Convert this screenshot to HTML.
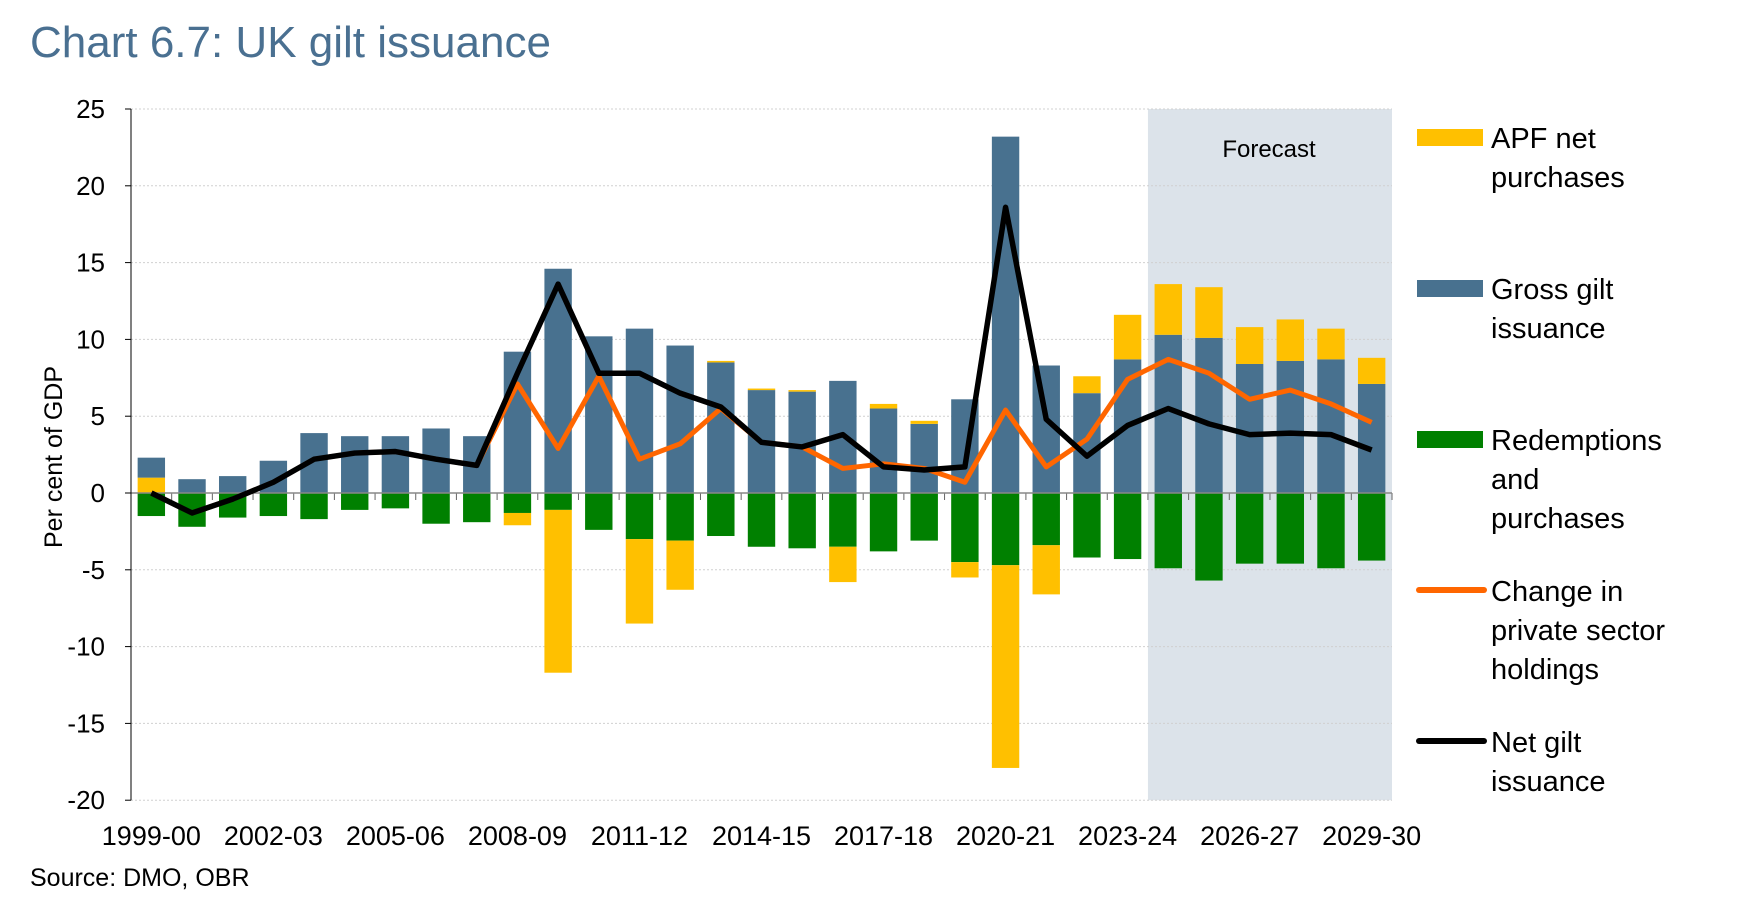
<!DOCTYPE html>
<html><head><meta charset="utf-8"><style>
body{margin:0;background:#fff;width:1754px;height:918px;overflow:hidden;font-family:"Liberation Sans",sans-serif}
</style></head><body>
<svg id="c" width="1754" height="918" xmlns="http://www.w3.org/2000/svg">
<text x="30" y="57" font-size="44" fill="#4a7091">Chart 6.7: UK gilt issuance</text>
<text x="30" y="886" font-size="25" fill="#000">Source: DMO, OBR</text>
<text transform="translate(62,457) rotate(-90)" text-anchor="middle" font-size="25">Per cent of GDP</text>
<g id="g"></g>
</svg>
<script>
const categories=["1999-00","2000-01","2001-02","2002-03","2003-04","2004-05","2005-06","2006-07","2007-08","2008-09","2009-10","2010-11","2011-12","2012-13","2013-14","2014-15","2015-16","2016-17","2017-18","2018-19","2019-20","2020-21","2021-22","2022-23","2023-24","2024-25","2025-26","2026-27","2027-28","2028-29","2029-30"];
const gross=[2.3,0.9,1.1,2.1,3.9,3.7,3.7,4.2,3.7,9.2,14.6,10.2,10.7,9.6,8.5,6.7,6.6,7.3,5.5,4.5,6.1,23.2,8.3,6.5,8.7,10.3,10.1,8.4,8.6,8.7,7.1];
const apf=[1.0,0,0,0,0,0,0,0,0,-0.8,-10.6,0,-5.5,-3.2,0.1,0.1,0.1,-2.3,0.3,0.2,-1.0,-13.2,-3.2,1.1,2.9,3.3,3.3,2.4,2.7,2.0,1.7];
const redemptions=[-1.5,-2.2,-1.6,-1.5,-1.7,-1.1,-1.0,-2.0,-1.9,-1.3,-1.1,-2.4,-3.0,-3.1,-2.8,-3.5,-3.6,-3.5,-3.8,-3.1,-4.5,-4.7,-3.4,-4.2,-4.3,-4.9,-5.7,-4.6,-4.6,-4.9,-4.4];
const netIssuance=[0,-1.3,-0.4,0.7,2.2,2.6,2.7,2.2,1.8,7.8,13.6,7.8,7.8,6.5,5.6,3.3,3.0,3.8,1.7,1.5,1.7,18.6,4.8,2.4,4.4,5.5,4.5,3.8,3.9,3.8,2.8];
const privateChange=[0,-1.3,-0.4,0.7,2.2,2.6,2.7,2.2,1.8,7.1,2.9,7.6,2.2,3.2,5.5,3.3,3.0,1.6,1.9,1.6,0.7,5.4,1.7,3.5,7.4,8.7,7.8,6.1,6.7,5.8,4.6];
const yTicks=[25,20,15,10,5,0,-5,-10,-15,-20];
const forecastStart=25;

const NS="http://www.w3.org/2000/svg";
const g=document.getElementById('g');
const X0=131,X1=1392,band=(X1-X0)/categories.length,bw=27.4;
const Y0=493,PU=15.36;
const y=v=>Y0-v*PU;
const xc=i=>X0+band*(i+0.5);
function mk(t,a){const e=document.createElementNS(NS,t);for(const k in a)e.setAttribute(k,a[k]);g.appendChild(e);return e;}

let e=mk('rect',{x:X0+band*forecastStart,y:y(25),width:X1-(X0+band*forecastStart),height:y(-20)-y(25),fill:'#dce3ea'});


e=mk('text',{x:1269,y:157,'font-size':24,'text-anchor':'middle'});e.textContent='Forecast';



yTicks.forEach(v=>{
  if(v!==0){const l=mk('line',{x1:X0,x2:X1,y1:y(v),y2:y(v),stroke:'#d0d0d0','stroke-width':1,'stroke-dasharray':'2,2'});
  
  }
  const t=mk('text',{x:105,y:y(v)+9,'font-size':26,'text-anchor':'end'});t.textContent=v;
  
  
  const tk=mk('line',{x1:X0-6,x2:X0,y1:y(v),y2:y(v),stroke:'#000'});
  
  
});

categories.forEach((c,i)=>{
  const x=xc(i)-bw/2;
  if(i===0&&apf[i]>0){
    let r=mk('rect',{x:x,y:y(apf[i]),width:bw,height:apf[i]*PU,fill:'#ffc000'});
    
    
    r=mk('rect',{x:x,y:y(gross[i]),width:bw,height:(gross[i]-apf[i])*PU,fill:'#48718f'});
    
    
  } else {
    let r=mk('rect',{x:x,y:y(gross[i]),width:bw,height:gross[i]*PU,fill:'#48718f'});
    
    
    if(apf[i]>0){
      r=mk('rect',{x:x,y:y(gross[i]+apf[i]),width:bw,height:apf[i]*PU,fill:'#ffc000'});
      
      
    }
  }
  let r=mk('rect',{x:x,y:Y0,width:bw,height:-redemptions[i]*PU,fill:'#008000'});
  
  
  if(apf[i]<0){
    r=mk('rect',{x:x,y:y(redemptions[i]),width:bw,height:-apf[i]*PU,fill:'#ffc000'});
    
    
  }
  if(i%3===0){
    const t=mk('text',{x:xc(i),y:845,'font-size':27,'text-anchor':'middle'});t.textContent=c;
    
    
  }
  const tk=mk('line',{x1:X0+band*(i+1),x2:X0+band*(i+1),y1:Y0,y2:Y0+7,stroke:'#666'});
  
  
});
e=mk('line',{x1:X0,x2:X1,y1:Y0,y2:Y0,stroke:'#888','stroke-width':1.5});


e=mk('line',{x1:X0,x2:X0,y1:y(25),y2:y(-20),stroke:'#000','stroke-width':1});



e=mk('polyline',{points:privateChange.map((v,i)=>xc(i)+','+y(v)).join(' '),fill:'none',stroke:'#ff6600','stroke-width':5,'stroke-linejoin':'round'});


e=mk('polyline',{points:netIssuance.map((v,i)=>xc(i)+','+y(v)).join(' '),fill:'none',stroke:'#000','stroke-width':5.5,'stroke-linejoin':'round'});



const legend=[["APF net","purchases"],["Gross gilt","issuance"],["Redemptions","and","purchases"],["Change in","private sector","holdings"],["Net gilt","issuance"]];
const lcol=['#ffc000','#48718f','#008000','#ff6600','#000'];
legend.forEach((lines,k)=>{
  const cy=137+151*k;
  let s;
  if(k<3){s=mk('rect',{x:1417,y:cy-8,width:66,height:17,fill:lcol[k]});}
  else{s=mk('line',{x1:1419,x2:1484,y1:cy,y2:cy,stroke:lcol[k],'stroke-width':6,'stroke-linecap':'round'});}
  
  
  lines.forEach((ln,j)=>{
    const t=mk('text',{x:1491,y:cy+11+39*j,'font-size':29});t.textContent=ln;
    
    
  });
});
</script>
</body></html>
